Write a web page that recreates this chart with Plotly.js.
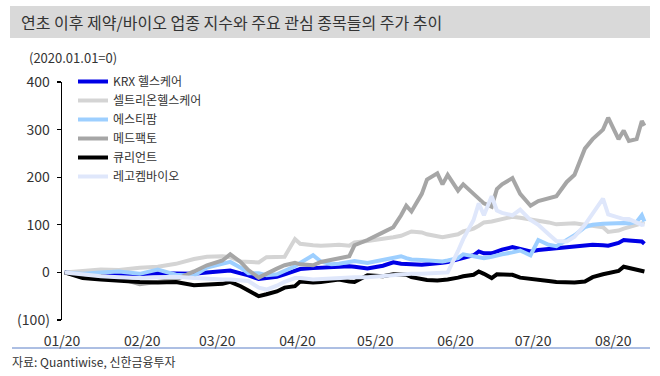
<!DOCTYPE html>
<html>
<head>
<meta charset="utf-8">
<script src="https://cdn.plot.ly/plotly-3.0.1.min.js"></script>
<style>
  html, body { margin: 0; padding: 0; background: #fff; }
  #chart { width: 660px; height: 376px; }
</style>
</head>
<body>
<div id="chart"></div>
<script>
// ---- Data (2020.01.01 = 0) ----
const dates = [
  '2020-01-02','2020-01-09','2020-01-16','2020-01-23','2020-01-31','2020-02-07','2020-02-14','2020-02-21','2020-02-26','2020-03-03',
  '2020-03-06','2020-03-10','2020-03-13','2020-03-17','2020-03-20','2020-03-24','2020-03-27','2020-03-31','2020-04-02','2020-04-07',
  '2020-04-10','2020-04-14','2020-04-17','2020-04-21','2020-04-23','2020-04-28','2020-05-04','2020-05-08','2020-05-11','2020-05-13',
  '2020-05-15','2020-05-19','2020-05-21','2020-05-25','2020-05-27','2020-05-29','2020-06-02','2020-06-04','2020-06-08','2020-06-10',
  '2020-06-12','2020-06-15','2020-06-17','2020-06-19','2020-06-23','2020-06-26','2020-06-30','2020-07-03','2020-07-07','2020-07-10',
  '2020-07-14','2020-07-17','2020-07-21','2020-07-24','2020-07-28','2020-07-30','2020-08-03','2020-08-05','2020-08-07','2020-08-10',
  '2020-08-12','2020-08-13'
];
const seriesNames = ['KRX 헬스케어','셀트리온헬스케어','에스티팜','메드팩토','큐리언트','레고켐바이오'];
const krxHealthcare = [0,-2,-3,-3,-4,-2,-2,-3,0,2, 4,-2,-6,-14,-12,-9,-4,2,7,9, 10,11,12,13,12,8,14,21,18,17, 17,16,17,18,20,22,27,30,36,44, 40,40,45,48,53,50,44,47,49,50, 52,54,57,58,57,56,62,68,67,66, 65,60];
const celltrionHC = [0,2,6,5,10,12,18,28,33,34, 32,23,22,21,32,32,33,70,60,57, 56,57,58,56,63,66,70,74,77,82, 86,84,80,76,74,76,80,86,92,98, 105,107,110,112,117,115,112,110,105,101, 101,103,100,98,95,85,88,92,95,100, 103,101];
const stPharm = [0,-3,0,2,-3,6,-5,-7,10,17, 22,10,-2,-2,-6,-4,3,13,20,36, 23,17,18,21,24,20,26,30,34,30, 27,26,25,23,23,25,30,38,34,32, 30,33,36,38,42,46,36,68,58,55, 68,78,95,100,102,103,103,104,103,106, 120,107];
const medPacto = [0,-10,-8,-12,-25,-20,-15,2,15,25, 38,22,5,-11,-2,8,15,20,17,15, 22,27,30,34,57,68,84,95,120,140, 128,165,195,208,185,205,172,185,165,155, 145,138,175,185,198,165,140,150,155,160, 190,205,260,280,300,325,280,298,276,280, 318,308];
const curient = [0,-12,-15,-18,-20,-21,-20,-27,-25,-24, -20,-29,-38,-50,-46,-40,-32,-29,-19,-21, -20,-17,-15,-19,-20,-6,-8,-4,-4,-5, -10,-15,-16,-17,-17,-15,-11,-8,-5,2, -3,-12,-4,-4,-5,-11,-14,-17,-18,-20, -21,-21,-19,-10,-4,-1,3,12,10,5, 3,2];
const legochem = [0,-5,-8,-10,-12,-10,-9,-12,-14,-15, -15,-16,-18,-32,-36,-28,-20,-12,-12,-15, -14,-11,-10,-10,-10,-10,-7,-5,-4,-3, -3,-3,-2,-2,-1,0,45,70,110,145, 120,160,130,125,120,132,110,100,80,66, 65,75,100,125,155,122,115,112,112,105, 100,101];
const seriesValues = [krxHealthcare, celltrionHC, stPharm, medPacto, curient, legochem];
const seriesColors = ['#0000e6','#d4d4d4','#9dcfff','#a6a6a6','#000000','#dfe7fb'];

const yTickVals = [-100,0,100,200,300,400];
const yTickText = ['(100)','0','100','200','300','400'];

const titleText = '연초 이후 제약/바이오 업종 지수와 주요 관심 종목들의 주가 추이';
const subtitleText = '(2020.01.01=0)';
const sourceText = '자료: Quantiwise, 신한금융투자';

// ---- Build ----
const FONT = '"Noto Sans CJK KR", "Noto Sans", sans-serif';
const traces = seriesNames.map((name, i) => ({
  type: 'scatter', mode: 'lines', name: name,
  x: dates, y: seriesValues[i],
  line: { color: seriesColors[i], width: 4 },
  hoverinfo: 'skip'
}));

// pixel helpers for paper coords (plot area 62..647 x, 82..320 y)
const L = 62, R = 13, T = 82, B = 56, W = 660, H = 376;
const pw = W - L - R, ph = H - T - B;
const px = p => (p - L) / pw;
const py = p => (H - B - p) / ph;

const layout = {
  width: W, height: H,
  margin: { l: L, r: R, t: T, b: B, autoexpand: false },
  paper_bgcolor: '#ffffff', plot_bgcolor: '#ffffff',
  font: { family: FONT, color: '#333333', size: 13 },
  showlegend: true,
  legend: {
    xref: 'container', yref: 'container',
    x: 73 / W, y: 1 - 67 / H, xanchor: 'left', yanchor: 'top',
    bgcolor: 'rgba(0,0,0,0)', font: { size: 12, color: '#333333', family: FONT },
    tracegroupgap: 0
  },
  xaxis: {
    type: 'date', range: ['2020-01-01', '2020-08-14'],
    tick0: '2020-01-01', dtick: 'M1', tickformat: '%m/%y',
    showgrid: false, zeroline: false, showline: false,
    ticks: 'outside', ticklen: 8, tickcolor: 'rgba(0,0,0,0)',
    tickfont: { size: 14, color: '#333333', family: FONT },
    fixedrange: true
  },
  xaxis2: {
    type: 'date', range: ['2020-01-01', '2020-08-14'],
    overlaying: 'x', anchor: 'free', position: 0.2, side: 'bottom',
    tick0: '2020-01-01', dtick: 'M1',
    showgrid: false, zeroline: false, showline: true, linecolor: '#000000', linewidth: 1,
    ticks: 'outside', ticklen: 4, tickcolor: '#000000', tickwidth: 1,
    showticklabels: false, fixedrange: true
  },
  yaxis: {
    range: [-100, 400], tickvals: yTickVals, ticktext: yTickText,
    showgrid: false, zeroline: false, showline: true, linecolor: '#000000', linewidth: 1.3,
    ticks: 'outside', ticklen: 4, tickcolor: '#000000', tickwidth: 1.3,
    ticklabelstandoff: 4,
    tickfont: { size: 14, color: '#333333', family: FONT },
    fixedrange: true
  },
  shapes: [
    { type: 'rect', xref: 'paper', yref: 'paper', layer: 'below',
      x0: px(10), x1: px(650), y0: py(38), y1: py(6),
      fillcolor: '#d9d9d9', line: { width: 0 } },
    { type: 'line', xref: 'paper', yref: 'paper',
      x0: px(12), x1: px(650), y0: py(348), y1: py(348),
      line: { color: '#5b7fc7', width: 1 } }
  ],
  annotations: [
    { text: titleText, xref: 'paper', yref: 'paper', x: px(19), y: py(22),
      xanchor: 'left', yanchor: 'middle', showarrow: false,
      font: { size: 16, color: '#333333', family: FONT } },
    { text: subtitleText, xref: 'paper', yref: 'paper', x: px(27), y: py(58),
      xanchor: 'left', yanchor: 'middle', showarrow: false,
      font: { size: 13, color: '#333333', family: FONT } },
    { text: sourceText, xref: 'paper', yref: 'paper', x: px(10), y: py(361),
      xanchor: 'left', yanchor: 'middle', showarrow: false,
      font: { size: 12, color: '#333333', family: FONT } }
  ]
};

Plotly.newPlot('chart', traces, layout, { displayModeBar: false, staticPlot: true });
</script>
</body>
</html>
